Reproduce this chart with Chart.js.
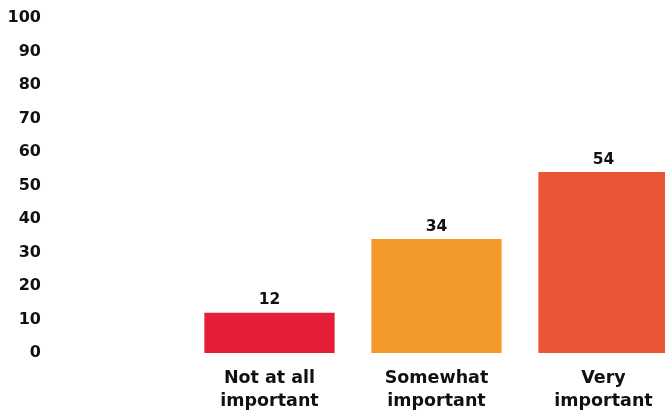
<!DOCTYPE html>
<html>
<head>
<meta charset="utf-8">
<script src="https://cdn.jsdelivr.net/npm/chart.js@4.4.1/dist/chart.umd.min.js"></script>
<style>
  html, body { margin: 0; padding: 0; background: #ffffff; overflow: hidden; }
  canvas { display: block; }
</style>
</head>
<body>
<canvas id="importanceChart" width="687" height="415"></canvas>
<script>
// values
const categories = [["Not at all", "important"], ["Somewhat", "important"], ["Very", "important"]];
const values = [12, 34, 54];
const barColors = ["#E41E37", "#F39A2B", "#E85636"];
const yTicks = [0, 10, 20, 30, 40, 50, 60, 70, 80, 90, 100];

const fontFamily = "'DejaVu Sans', Verdana, sans-serif";

document.addEventListener("DOMContentLoaded", function () {
    const valueLabels = {
        id: "valueLabels",
        afterDatasetsDraw(chart) {
            const ctx = chart.ctx;
            const meta = chart.getDatasetMeta(0);
            ctx.save();
            ctx.font = "bold 15.5px " + fontFamily;
            ctx.fillStyle = "#111111";
            ctx.textAlign = "center";
            ctx.textBaseline = "alphabetic";
            meta.data.forEach((bar, i) => {
                ctx.fillText(values[i], bar.x, bar.y - 8.5);
            });
            ctx.restore();
        },
    };

    const ctx = document.getElementById("importanceChart").getContext("2d");
    new Chart(ctx, {
        type: "bar",
        data: {
            labels: categories,
            datasets: [
                {
                    data: values,
                    backgroundColor: barColors,
                    borderWidth: 0,
                    barPercentage: 0.78,
                    categoryPercentage: 1,
                },
            ],
        },
        options: {
            responsive: false,
            animation: false,
            layout: { padding: { top: 18, right: 0, left: 0, bottom: 0 } },
            plugins: {
                legend: { display: false },
                tooltip: { enabled: false },
            },
            scales: {
                x: {
                    grid: { display: false },
                    border: { display: false },
                    ticks: {
                        color: "#111111",
                        padding: 6,
                        maxRotation: 0,
                        autoSkip: false,
                        font: { family: fontFamily, size: 17.5, weight: "bold", lineHeight: 1.3 },
                    },
                    afterFit(scale) {
                        scale.height = 62;
                        scale.paddingLeft = 0;
                        scale.paddingRight = 0;
                    },
                },
                y: {
                    min: 0,
                    max: 100,
                    grid: { display: false },
                    border: { display: false },
                    afterBuildTicks(scale) { scale.ticks = yTicks.map((v) => ({ value: v })); },
                    ticks: {
                        color: "#111111",
                        padding: 137,
                        font: { family: fontFamily, size: 16, weight: "bold" },
                    },
                    afterFit(scale) {
                        scale.width = 186;
                        scale.paddingTop = 10;
                        scale.paddingBottom = 10;
                    },
                },
            },
        },
        plugins: [valueLabels],
    });
});
</script>
</body>
</html>
